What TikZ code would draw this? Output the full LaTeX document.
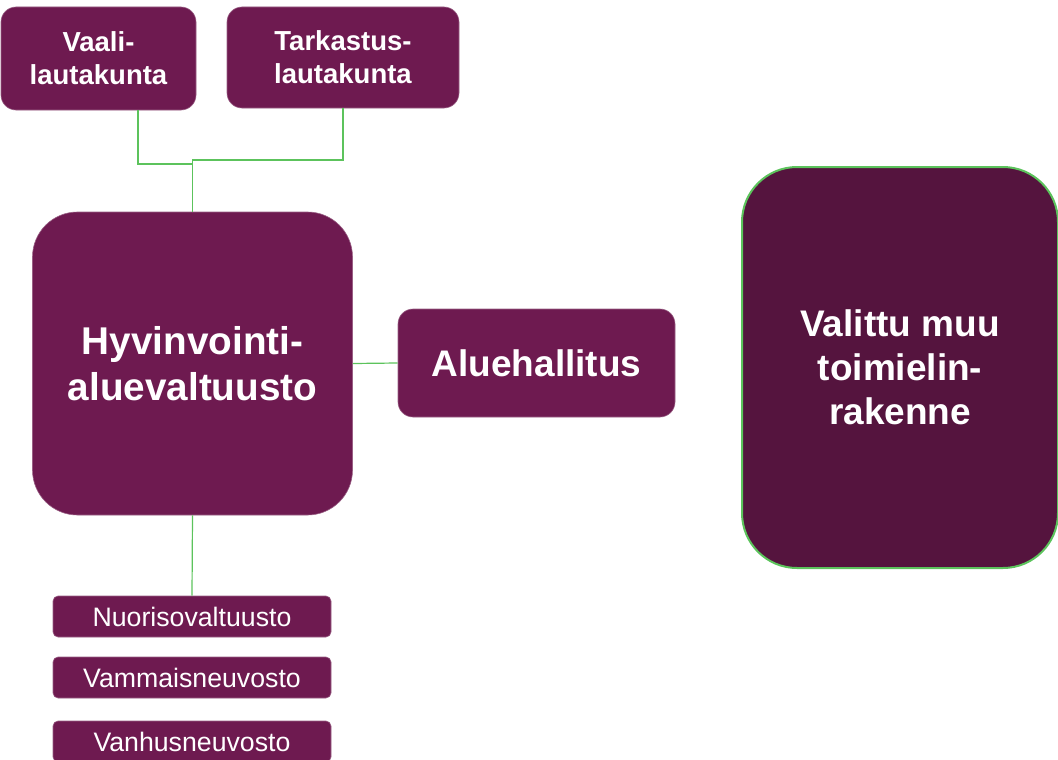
\documentclass[tikz,border=0pt]{standalone}
\usepackage{fontspec}
\setmainfont{Liberation Sans}
\definecolor{plum}{HTML}{6E1A50}
\definecolor{darkplum}{HTML}{55143E}
\definecolor{lgreen}{HTML}{5CC35C}
\begin{document}
\begin{tikzpicture}[x=1pt,y=-1pt,
  box/.style={fill=plum, draw=plum!70!white, line width=0.6pt, text=white, align=center, inner sep=0pt},
  bigtext/.style={font=\fontsize{27.5}{33}\selectfont\bfseries},
  hugetext/.style={font=\fontsize{37}{44}\selectfont\bfseries},
  hyvtext/.style={font=\fontsize{38.7}{46}\selectfont\bfseries},
  smalltext/.style={font=\fontsize{26.7}{30}\selectfont},
  conn/.style={draw=lgreen, line width=1.2pt}]
\useasboundingbox (0,0) rectangle (1058,760);
\node[box, bigtext, rounded corners=15pt, minimum width=195pt, minimum height=103pt] (vaali) at (98.5,58.5) {Vaali-\\lautakunta};
\node[box, bigtext, rounded corners=15pt, minimum width=232pt, minimum height=101pt] (tark) at (343,57.5) {Tarkastus-\\lautakunta};
\node[box, hyvtext, rounded corners=45pt, minimum width=320pt, minimum height=303pt] (hyv) at (192.5,363.5) {Hyvinvointi-\\aluevaltuusto};
\node[box, hugetext, rounded corners=15pt, minimum width=277pt, minimum height=108pt] (alue) at (536.5,363) {Aluehallitus};
\node[box, hugetext, fill=darkplum, draw=lgreen, line width=2pt, rounded corners=55pt, minimum width=316pt, minimum height=401pt] (valittu) at (900,367.5) {Valittu muu\\toimielin-\\rakenne};
\node[box, smalltext, rounded corners=5pt, minimum width=278pt, minimum height=41pt] (nuor) at (192,616.5) {Nuorisovaltuusto};
\node[box, smalltext, rounded corners=5pt, minimum width=278pt, minimum height=41pt] (vamm) at (192,677.5) {Vammaisneuvosto};
\node[box, smalltext, rounded corners=5pt, minimum width=278pt, minimum height=41pt] (vanh) at (192,741.5) {Vanhusneuvosto};
\coordinate (j1) at (192.5,164);
\coordinate (j2) at (192.5,160);
\draw[conn] ([xshift=39.5pt]vaali.south) |- (j1);
\draw[conn] (tark.south) |- (j2) -- (hyv.north);
\draw[conn] (hyv.east) -- (alue.west);
\draw[conn] (hyv.south) -- (nuor.north);
\end{tikzpicture}
\end{document}
